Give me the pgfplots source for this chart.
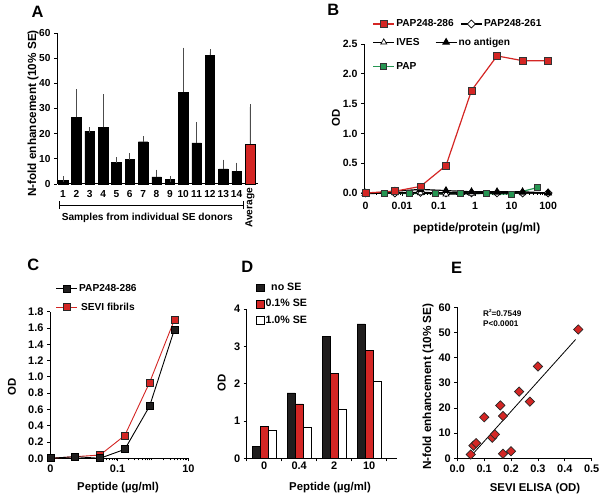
\documentclass[border=0pt]{standalone}
\usepackage{fontspec}
\setmainfont{Liberation Sans}
\usepackage{pgfplots}
\pgfplotsset{compat=1.18}
\definecolor{myred}{RGB}{212,38,36}
\definecolor{mygreen}{RGB}{38,150,82}
\definecolor{mydark}{RGB}{32,30,30}
\newcommand{\lf}{\fontsize{10.2}{12}\selectfont\bfseries}
\newcommand{\tlA}{\fontsize{10.2}{12}\selectfont\bfseries}
\newcommand{\tlB}{\fontsize{10.6}{12}\selectfont\bfseries}
\newcommand{\tlC}{\fontsize{11}{13}\selectfont\bfseries}
\newcommand{\af}{\fontsize{11.4}{13}\selectfont\bfseries}
\newcommand{\afb}{\fontsize{11.8}{13}\selectfont\bfseries}
\newcommand{\tf}{\fontsize{16.5}{18}\selectfont\bfseries}
\pgfplotsset{
  myaxis/.style={
    scale only axis,
    anchor=south west,
    axis x line=bottom, axis y line=left,
    axis line style={-, line width=1bp},
    tick align=outside,
    major tick length=3bp,
    minor tick length=2bp,
    tick style={line width=0.8bp, black},
    tick label style={font=\tlC},
    /pgf/number format/assume math mode=true,
    clip=false,
  },
  mylegend/.style={
    legend style={font=\lf, draw=none, fill=none, inner sep=0pt, nodes={inner sep=1.5bp}},
  },
  linelegend/.style={
    legend image code/.code={\draw[mark repeat=2,mark phase=2,##1] plot coordinates {(0bp,0bp) (10.5bp,0bp) (21bp,0bp)};}
  },
  sqlegend/.style={
    legend image code/.code={\draw[##1] (0bp,-3.8bp) rectangle (7.7bp,3.8bp);}
  },
  fixone/.style={/pgf/number format/.cd, fixed, fixed zerofill, precision=1},
  sRed/.style={color=myred, line width=1.2bp, mark=square*, mark size=3.4bp, mark options={fill=myred, draw=black!80, line width=0.7bp, solid}},
  sDia/.style={color=black, line width=1.2bp, mark=square*, mark size=2.8bp, mark options={fill=white, draw=black, rotate=45, line width=0.7bp, solid}},
  sIves/.style={color=black, line width=1.2bp, mark=triangle*, mark size=3.5bp, mark options={fill=white, draw=black, line width=0.7bp, solid}},
  sNo/.style={color=black, line width=1.2bp, mark=triangle*, mark size=3.5bp, mark options={fill=black, draw=black, solid}},
  sPap/.style={color=mygreen, line width=1.2bp, mark=square*, mark size=3bp, mark options={fill=mygreen, draw=black!80, line width=0.7bp, solid}},
}
\begin{document}
\begin{tikzpicture}[x=1bp,y=1bp]
\path[use as bounding box] (0,0) rectangle (600,495);

% ---------------- Panel A ----------------
\begin{axis}[myaxis, at={(57bp,311bp)}, width=201bp, height=151bp,
  tick label style={font=\tlA},
  xmin=0.55, xmax=15.6, ymin=0, ymax=60,
  ytick={0,10,20,30,40,50,60},
  xtick={1,2,3,4,5,6,7,8,9,10,11,12,13,14},
  xtick style={draw=none},
]
\addplot[ybar, bar width=9.5bp, bar shift=0pt, fill=black, draw=black,
  error bars/.cd, y dir=plus, y explicit,
  error bar style={line width=0.7bp, black!70},
  error mark options={mark size=3bp, line width=0.7bp, black!70}]
coordinates {
(1,1.5) +- (0,0.3)
(2,26.5) +- (0,10)
(3,21) +- (0,0.3)
(4,22.5) +- (0,12)
(5,8.5) +- (0,1)
(6,9.7) +- (0,1.3)
(7,16.8) +- (0,1)
(8,2.8) +- (0,1.7)
(9,1.8) +- (0,0.2)
(10,36.5) +- (0,16.5)
(11,16.3) +- (0,7.2)
(12,51.2) +- (0,1.1)
(13,6) +- (0,2.5)
(14,5) +- (0,2.3)
};
\addplot[ybar, bar width=9.5bp, bar shift=0pt, fill=myred, draw=black,
  error bars/.cd, y dir=plus, y explicit,
  error bar style={line width=0.7bp, black!70},
  error mark options={mark size=3bp, line width=0.7bp, black!70}]
coordinates {(15,16) +- (0,14.5)};
\end{axis}
\node[font=\lf, rotate=90] at (250,287) {Average};
\draw[line width=0.8bp] (59,290) -- (243,290);
\draw[line width=0.8bp] (59,286) -- (59,294);
\draw[line width=0.8bp] (243,286) -- (243,294);
\node[font=\lf] at (147.3,277) {Samples from individual SE donors};
\node[font=\afb, rotate=90] at (33,381.5) {N-fold enhancement (10\% SE)};
\node[font=\tf] at (37.5,483.5) {A};

% ---------------- Panel B ----------------
\begin{axis}[myaxis, mylegend, linelegend, at={(364bp,302bp)}, width=188bp, height=149bp,
  tick label style={font=\tlB},
  xmode=log, xmin=0.00091, xmax=128, ymin=0, ymax=2.5,
  ytick={0,0.5,1,1.5,2,2.5}, yticklabel style={fixone},
  xtick={0.001,0.01,0.1,1,10,100}, xticklabels={0,0.01,0.1,1,10,100},
  xticklabel style={yshift=-3bp},
  minor xtick={},
  legend columns=2,
  legend style={at={(axis description cs:0.045,1.134)}, anchor=west,
    /tikz/every even column/.append style={column sep=5bp}},
]
\addlegendimage{sRed}
\addlegendimage{sDia}
\addplot[sPap] coordinates {(0.0032,0.0) (0.016,-0.01) (0.08,-0.01) (0.4,-0.01) (2,-0.01) (10,-0.02) (50,0.09)};
\addplot[sDia] coordinates {(0.001,0.0) (0.0064,0.0) (0.032,0.01) (0.16,0.0) (0.8,0.0) (4,0.0) (20,0.0) (100,0.0)};
\addplot[sIves] coordinates {(0.001,-0.01) (0.0064,0.0) (0.032,0.0) (0.16,-0.02) (0.8,-0.01) (4,0.0) (20,0.0) (100,0.0)};
\addplot[sNo] coordinates {(0.001,-0.01) (0.0064,0.03) (0.032,0.06) (0.16,0.04) (0.8,0.02) (4,0.02) (20,0.02) (100,0.0)};
\addplot[sRed] coordinates {(0.001,0.0) (0.0064,0.03) (0.032,0.11) (0.16,0.46) (0.8,1.72) (4,2.30) (20,2.22) (100,2.22)};
\legend{PAP248-286, PAP248-261}
\end{axis}
\begin{axis}[mylegend, linelegend, at={(364bp,302bp)}, anchor=south west, scale only axis, width=188bp, height=149bp,
  hide axis, xmin=0, xmax=1, ymin=0, ymax=1,
  legend columns=2,
  legend style={at={(axis description cs:0.045,1.011)}, anchor=west,
    /tikz/every even column/.append style={column sep=14bp}},
]
\addlegendimage{sIves}
\addlegendentry{IVES}
\addlegendimage{sNo}
\addlegendentry{no antigen}
\end{axis}
\begin{axis}[mylegend, linelegend, at={(364bp,302bp)}, anchor=south west, scale only axis, width=188bp, height=149bp,
  hide axis, xmin=0, xmax=1, ymin=0, ymax=1,
  legend style={at={(axis description cs:0.045,0.848)}, anchor=west},
]
\addlegendimage{sPap}
\addlegendentry{PAP}
\end{axis}
\node[font=\af, rotate=90] at (336,377) {OD};
\node[font=\afb] at (476.7,266.7) {peptide/protein (µg/ml)};
\node[font=\tf] at (333.3,485) {B};

% ---------------- Panel C ----------------
\begin{axis}[myaxis, mylegend, linelegend, at={(50bp,36.7bp)}, width=138.5bp, height=146.6bp,
  xmode=log, xmin=0.00125, xmax=10, ymin=0, ymax=1.8,
  ytick={0,0.2,0.4,0.6,0.8,1.0,1.2,1.4,1.6,1.8}, yticklabel style={fixone},
  xtick={0.00128,0.1,10}, xticklabels={0,0.1,10},
  minor xtick={0.04,0.05,0.06,0.07,0.08,0.09,0.2,0.3,0.4,0.5,0.6,0.7,0.8,0.9,2,3,4,5,6,7,8,9},
  legend style={at={(axis description cs:0.04,1.093)}, anchor=west, row sep=6.5bp},
  reverse legend,
]
\addplot[color=myred, line width=0.9bp, mark=square*, mark size=3.5bp, mark options={fill=myred, draw=black!85, line width=0.7bp}]
  coordinates {(0.00128,0.0) (0.0064,0.02) (0.032,0.04) (0.16,0.28) (0.8,0.93) (4,1.70)};
\addplot[color=black, line width=0.9bp, mark=square*, mark size=3.5bp, mark options={fill=mydark, draw=black, line width=0.7bp}]
  coordinates {(0.00128,0.0) (0.0064,0.02) (0.032,0.0) (0.16,0.11) (0.8,0.64) (4,1.58)};
\legend{SEVI fibrils, PAP248-286}
\end{axis}
\node[font=\af, rotate=90] at (12,108.3) {OD};
\node[font=\af] at (118,7.5) {Peptide (µg/ml)};
\node[font=\tf] at (33.3,230) {C};

% ---------------- Panel D ----------------
\begin{axis}[myaxis, mylegend, at={(246.7bp,36.7bp)}, width=150bp, height=149.3bp,
  legend style={font=\fontsize{10.7}{12}\selectfont\bfseries},
  ybar=0pt, bar width=8bp,
  xmin=-0.5, xmax=3.786, ymin=0, ymax=4,
  ytick={0,1,2,3,4},
  xtick={-0.5,0.5,1.5,2.5,3.5}, xticklabels={,,,,},
  extra x ticks={0,1,2,3}, extra x tick labels={0,0.4,2,10},
  extra x tick style={major tick length=0pt},
  legend style={at={(axis description cs:0.06,1.0335)}, anchor=west, row sep=4.5bp},
]
\addplot[fill=mydark, draw=black, line width=0.5bp, sqlegend] coordinates {(0,0.32) (1,1.75) (2,3.27) (3,3.6)};
\addplot[fill=myred, draw=black, line width=0.5bp, sqlegend] coordinates {(0,0.85) (1,1.46) (2,2.28) (3,2.89)};
\addplot[fill=white, draw=black, line width=0.5bp, sqlegend] coordinates {(0,0.74) (1,0.82) (2,1.31) (3,2.06)};
\legend{no SE, 0.1\% SE, 1.0\% SE}
\end{axis}
\node[font=\af, rotate=90] at (221.7,112) {OD};
\node[font=\af] at (330,7.5) {Peptide (µg/ml)};
\node[font=\tf] at (247.3,228.3) {D};

% ---------------- Panel E ----------------
\begin{axis}[myaxis, at={(457.3bp,36.7bp)}, width=134.4bp, height=151bp,
  xmin=0, xmax=0.5, ymin=0, ymax=60,
  ytick={0,10,20,30,40,50,60},
  xtick={0,0.1,0.2,0.3,0.4,0.5}, xticklabel style={fixone},
]
\addplot[black, line width=0.8bp] coordinates {(0.045,0.2) (0.44,47.2)};
\addplot[only marks, mark=square*, mark size=3.3bp, mark options={rotate=45, fill=myred, draw=black!85, line width=0.7bp}]
coordinates {
(0.05,1.5) (0.06,5) (0.07,6) (0.1,16.3) (0.13,8.2) (0.14,9.5) (0.16,21)
(0.17,16.8) (0.17,1.8) (0.2,2.8) (0.23,26.5) (0.27,22.5) (0.3,36.5) (0.45,51.2)
};
\end{axis}
\node[font=\fontsize{8.2}{10}\selectfont\bfseries, anchor=west, inner sep=0pt] at (483,181.7) {R\raisebox{0.45em}{\fontsize{4.5}{5}\selectfont 2}=0.7549};
\node[font=\fontsize{8.2}{10}\selectfont\bfseries, anchor=west, inner sep=0pt] at (483,171) {P<0.0001};
\node[font=\afb, rotate=90] at (428,108.3) {N-fold enhancement (10\% SE)};
\node[font=\af] at (535,6.5) {SEVI ELISA (OD)};
\node[font=\tf] at (456.7,226.7) {E};

\end{tikzpicture}
\end{document}
